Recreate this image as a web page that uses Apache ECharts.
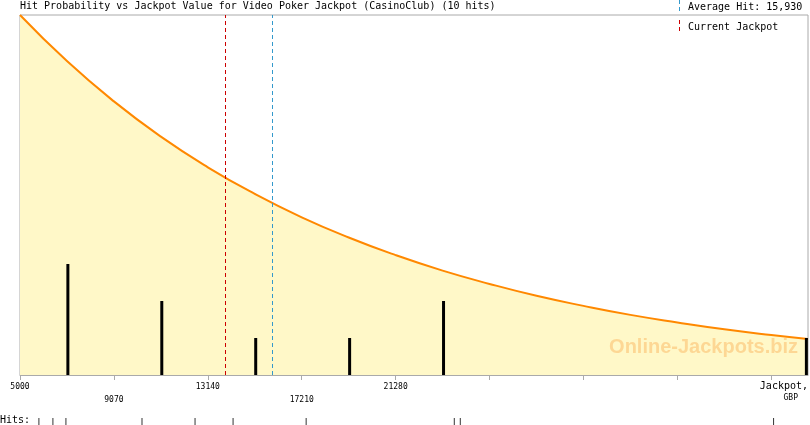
<!DOCTYPE html>
<html>
<head>
<meta charset="utf-8">
<script src="https://cdn.jsdelivr.net/npm/echarts@6/dist/echarts.min.js"></script>
<style>html,body{margin:0;padding:0;background:#fff}#c{width:810px;height:425px}</style>
</head>
<body>
<div id="c"></div>
<script>
// Curve: hit probability vs jackpot value
const jackpotValues = [5000, 7035, 9070, 11105, 13140, 15175, 17210, 19245, 21280, 23315, 25350, 27385, 29420, 31455, 33490, 35525, 37560, 39150];
const hitProbability = [1.00, 0.872, 0.76, 0.662, 0.577, 0.503, 0.438, 0.382, 0.333, 0.29, 0.253, 0.22, 0.192, 0.167, 0.146, 0.127, 0.111, 0.10];
// Histogram of hits per bin
const binCenters = [7075, 11145, 15215, 19285, 23355, 39080];
const binHits = [3, 2, 1, 1, 2, 1];
// Individual hit values
const hitValues = [5819, 6426, 6990, 10287, 12586, 14234, 17401, 23821, 24081, 37658];
// Axis ticks
const tickValues = [5000, 9070, 13140, 17210, 21280, 25350, 29420, 33490, 37560];
const labelValues = [5000, 9070, 13140, 17210, 21280];
const currentJackpot = 13890;
const averageHit = 15930;
const xMin = 5000, xMax = 39150;

const MONO = '"DejaVu Sans Mono", monospace';
const chart = echarts.init(document.getElementById('c'));
chart.setOption({
  animation: false,
  backgroundColor: '#fff',
  grid: [
    {left: 20, right: 2, top: 15, height: 360, show: true, borderColor: '#aaa', borderWidth: 1, backgroundColor: 'transparent'},
    {left: 20, right: 2, top: 418, height: 15, show: false}
  ],
  xAxis: [
    {
      type: 'value', gridIndex: 0, min: xMin, max: xMax,
      axisLine: {show: true, lineStyle: {color: '#aaa', width: 1}},
      axisTick: {show: true, customValues: tickValues, length: 5, lineStyle: {color: '#aaa'}},
      axisLabel: {
        customValues: labelValues, margin: 5, color: '#000',
        fontFamily: MONO, fontSize: 8, lineHeight: 13, hideOverlap: false,
        formatter: function (v) { const i = labelValues.indexOf(v); return (i % 2 === 1 ? '\n' : '') + v; }
      },
      splitLine: {show: false}
    },
    {type: 'value', gridIndex: 1, min: xMin, max: xMax, show: false}
  ],
  yAxis: [
    {type: 'value', gridIndex: 0, min: 0, max: 9.73, show: false, splitLine: {show: false}},
    {type: 'value', gridIndex: 0, min: 0, max: 1, show: false, splitLine: {show: false}},
    {type: 'value', gridIndex: 1, min: 0, max: 1, show: false}
  ],
  series: [
    {
      type: 'line', xAxisIndex: 0, yAxisIndex: 1, smooth: true, showSymbol: false, z: 2,
      data: jackpotValues.map((v, i) => [v, hitProbability[i]]),
      lineStyle: {color: '#ff8800', width: 2},
      areaStyle: {color: '#fff8c8', opacity: 1},
      markLine: {
        silent: true, symbol: 'none', label: {show: false},
        data: [
          {xAxis: currentJackpot, lineStyle: {color: '#cc0000', type: [4, 3], width: 1}},
          {xAxis: averageHit, lineStyle: {color: '#3399cc', type: [4, 3], width: 1}}
        ]
      }
    },
    {
      type: 'bar', xAxisIndex: 0, yAxisIndex: 0, barWidth: 3, z: 3,
      itemStyle: {color: '#000'},
      data: binCenters.map((v, i) => [v, binHits[i]])
    },
    {
      type: 'scatter', xAxisIndex: 1, yAxisIndex: 2, symbol: 'rect', symbolSize: [1, 7],
      itemStyle: {color: '#000'},
      data: hitValues.map(v => [v, 0.5])
    }
  ],
  graphic: [
    {type: 'text', left: 20, top: 1, style: {text: 'Hit Probability vs Jackpot Value for Video Poker Jackpot (CasinoClub) (10 hits)', font: '10px ' + MONO, fill: '#000'}},
    {type: 'line', shape: {x1: 679.5, y1: 0, x2: 679.5, y2: 11}, style: {stroke: '#3399cc', lineWidth: 1, lineDash: [4, 3]}},
    {type: 'line', shape: {x1: 679.5, y1: 20, x2: 679.5, y2: 34}, style: {stroke: '#cc0000', lineWidth: 1, lineDash: [4, 3]}},
    {type: 'text', x: 688, y: 7, style: {text: 'Average Hit: 15,930', font: '10px ' + MONO, fill: '#000', textVerticalAlign: 'middle'}},
    {type: 'text', x: 688, y: 27, style: {text: 'Current Jackpot', font: '10px ' + MONO, fill: '#000', textVerticalAlign: 'middle'}},
    {type: 'text', x: 808, y: 386, style: {text: 'Jackpot,', font: '10px ' + MONO, fill: '#000', textAlign: 'right', textVerticalAlign: 'middle'}},
    {type: 'text', x: 798, y: 398, style: {text: 'GBP', font: '8px ' + MONO, fill: '#000', textAlign: 'right', textVerticalAlign: 'middle'}},
    {type: 'text', x: 0, y: 420, style: {text: 'Hits:', font: '10px ' + MONO, fill: '#000', textVerticalAlign: 'middle'}},
    {type: 'text', x: 798, y: 347, z: 100, style: {text: 'Online-Jackpots.biz', font: 'bold 20px "Liberation Sans", Arial, sans-serif', fill: '#fdd794', textAlign: 'right', textVerticalAlign: 'middle'}}
  ]
});
</script>
</body>
</html>
